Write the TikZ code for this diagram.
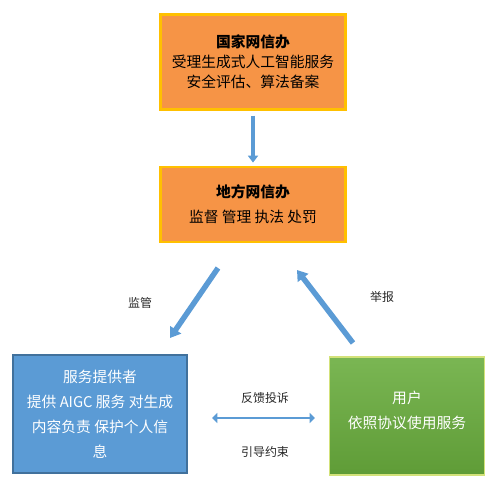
\documentclass[tikz,border=0pt]{standalone}
\usepackage{fontspec}
\setmainfont{Noto Sans CJK SC}
\usepackage{tikz}
\usetikzlibrary{positioning,arrows.meta}
\definecolor{cjuhuang}{HTML}{F69446}
\definecolor{cjinse}{HTML}{FFC000}
\definecolor{clan}{HTML}{5B9BD5}
\definecolor{clanshen}{HTML}{41719C}
\definecolor{clvshang}{HTML}{7AB653}
\definecolor{clvxia}{HTML}{5F9C37}
\definecolor{clvbian}{HTML}{D3E27A}
\tikzset{
  jigou/.style={rectangle, draw=cjinse, line width=1.3pt, fill=cjuhuang,
    align=center, minimum width=3.7cm, font=\fontsize{8.4}{11.4}\selectfont},
  tigong/.style={rectangle, draw=clanshen, line width=0.6pt, fill=clan, text=white,
    align=center, minimum width=3.48cm, minimum height=2.36cm, font=\fontsize{8.4}{14.2}\selectfont},
  yonghu/.style={rectangle, draw=clvbian, line width=0.8pt, top color=clvshang, bottom color=clvxia,
    text=white, align=center, minimum width=3.1cm, minimum height=2.36cm, font=\fontsize{8.4}{14.2}\selectfont},
  jiantou/.style={-{Triangle[width=7.4pt,length=5.7pt]}, line width=3.1pt, draw=clan},
  shuxiang/.style={-{Triangle[width=5.7pt,length=4pt]}, line width=2.5pt, draw=clan},
  shuangxiang/.style={{Triangle[width=5.7pt,length=3pt]}-{Triangle[width=5.7pt,length=3pt]}, line width=1.5pt, draw=clan},
  biaoqian/.style={font=\fontsize{6.8}{8}\selectfont, text=black!85},
}
\begin{document}
\begin{tikzpicture}[x=0.02cm, y=-0.02cm]
  \useasboundingbox (0,0) rectangle (500,490);
  \node[jigou, minimum height=1.9cm] (gj) at (253,62) {\textbf{国家网信办}\\受理生成式人工智能服务\\安全评估、算法备案};
  \node[jigou, minimum height=1.5cm, font=\fontsize{8.4}{14.2}\selectfont, below=1.1cm of gj] (df)
    {\textbf{地方网信办}\\监督 管理 执法 处罚};
  \node[tigong] (fw) at (100,414) {服务提供者\\提供 AIGC 服务 对生成\\内容负责 保护个人信\\息};
  \node[yonghu] (yh) at (407,416) {用户\\依照协议使用服务\\[-0.25cm]};
  % free ends of the fat arrows
  \coordinate (jg1) at (218,268); \coordinate (jg2) at (170,338);
  \coordinate (jb1) at (353,343); \coordinate (jb2) at (297,270);
  \coordinate (fk1) at (212,418); \coordinate (fk2) at (315,418);
  \draw[shuxiang, shorten <=0.1cm, shorten >=0.06cm] (gj) -- (df);
  \draw[jiantou] (jg1) -- (jg2);
  \draw[jiantou] (jb1) -- (jb2);
  \draw[shuangxiang] (fk1) -- (fk2);
  \node[biaoqian] (jgz) at (140,303) {监管};
  \node[biaoqian] (jbz) at (382,297) {举报};
  \node[biaoqian] (fkz) at (265,398) {反馈投诉};
  \node[biaoqian] (ydz) at (265,452) {引导约束};
\end{tikzpicture}
\end{document}
